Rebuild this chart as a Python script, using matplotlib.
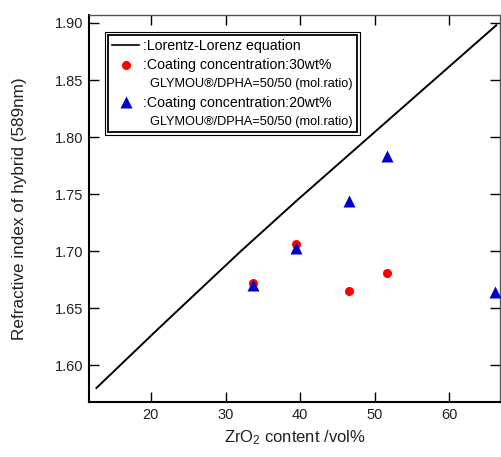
import matplotlib
matplotlib.use("Agg")
import matplotlib.pyplot as plt
from matplotlib.lines import Line2D
from matplotlib.patches import Rectangle

plt.rcParams['font.family'] = ['Liberation Sans', 'DejaVu Sans']
plt.rcParams['mathtext.fontset'] = 'custom'
plt.rcParams['mathtext.rm'] = 'Liberation Sans'
plt.rcParams['mathtext.it'] = 'Liberation Sans:italic'

# Lorentz-Lorenz line
ll_x = [12.7, 21.0, 31.9, 39.5, 51.5, 66.3]
ll_y = [1.580, 1.632, 1.699, 1.744, 1.813, 1.898]

# Coating concentration 30 wt%
c30_x = [33.7, 39.5, 46.5, 51.6]
c30_y = [1.672, 1.706, 1.665, 1.681]

# Coating concentration 20 wt%
c20_x = [33.7, 39.5, 46.5, 51.6, 66.1]
c20_y = [1.670, 1.703, 1.744, 1.783, 1.664]

xticks = [20, 30, 40, 50, 60]
yticks = [1.60, 1.65, 1.70, 1.75, 1.80, 1.85, 1.90]

fig = plt.figure(figsize=(5.02, 4.57), dpi=100)
ax = fig.add_axes([89/502, 55/457, 411/502, 387/457])

ax.plot(ll_x, ll_y, color='black', lw=1.4, zorder=2)
ax.plot(c30_x, c30_y, 'o', color='#ff0000', ms=6.5, mec='none', zorder=3)
ax.plot(c20_x, c20_y, '^', color='#0000cc', ms=8, mec='none', zorder=4)

ax.set_xlim(11.7, 66.8)
ax.set_ylim(1.5677, 1.907)
ax.set_xticks(xticks)
ax.set_yticks(yticks)
ax.set_yticklabels([f"{v:.2f}" for v in yticks])
ax.tick_params(direction='in', length=7.5, width=1.0, labelsize=10.5,
               top=True, right=True, labelcolor='#222222', pad=4)
for s in ['left', 'bottom']:
    ax.spines[s].set_linewidth(1.5)
for s in ['top', 'right']:
    ax.spines[s].set_linewidth(1.0)
    ax.spines[s].set_color('#555555')

ax.set_xlabel('ZrO$_2$ content /vol%', fontsize=12, labelpad=5, color='#222222')
ax.set_ylabel('Refractive index of hybrid (589nm)', fontsize=12.3, labelpad=20, color='#222222')

handles = [
    Line2D([], [], color='black', lw=1.2),
    Line2D([], [], ls='none', marker='o', color='#ff0000', ms=6.5, mec='none'),
    Line2D([], [], ls='none'),
    Line2D([], [], ls='none', marker='^', color='#0000cc', ms=8, mec='none'),
    Line2D([], [], ls='none'),
]
labels = [
    ':Lorentz-Lorenz equation',
    ':Coating concentration:30wt%',
    '  GLYMOU®/DPHA=50/50 (mol.ratio)',
    ':Coating concentration:20wt%',
    '  GLYMOU®/DPHA=50/50 (mol.ratio)',
]
leg = ax.legend(handles, labels, loc='upper left', bbox_to_anchor=(0.046, 0.948),
                fontsize=10.2, frameon=True, fancybox=False, edgecolor='black',
                framealpha=1, borderpad=0.3, labelspacing=0.36, handlelength=1.9,
                handletextpad=0.3, borderaxespad=0)
leg.get_frame().set_linewidth(1.3)
for i in (2, 4):
    leg.get_texts()[i].set_fontsize(9.2)

fig.canvas.draw()
bb = leg.get_window_extent()
pad = 3
inv = fig.transFigure.inverted()
(x0, y0) = inv.transform((bb.x0 - pad, bb.y0 - pad))
(x1, y1) = inv.transform((bb.x1 + pad, bb.y1 + pad))
fig.add_artist(Rectangle((x0, y0), x1 - x0, y1 - y0, transform=fig.transFigure,
                         fill=False, edgecolor='black', lw=0.8))

fig.savefig('out.png', dpi=100)
